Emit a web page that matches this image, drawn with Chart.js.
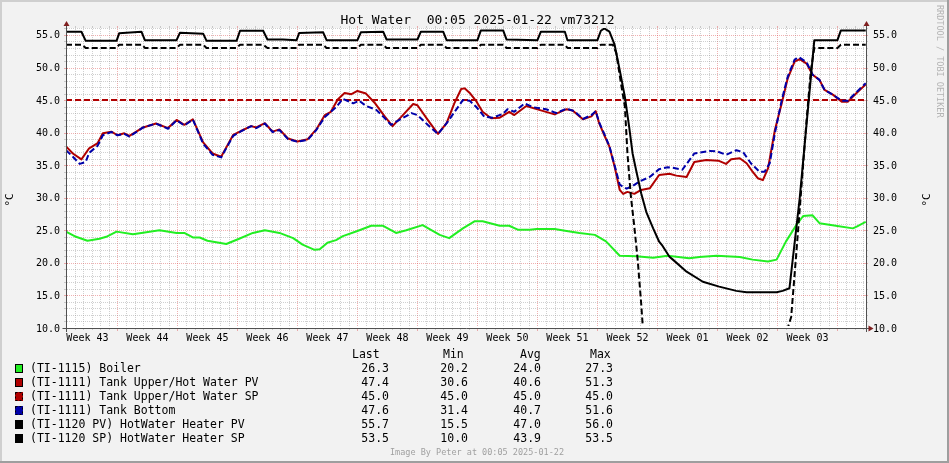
<!DOCTYPE html>
<html lang="en">
<head>
<meta charset="UTF-8" />
<title>Hot Water</title>
<script src="https://cdn.jsdelivr.net/npm/chart.js"></script>
<style>
  html, body { margin: 0; padding: 0; background: #f2f2f2; }
  canvas { display: block; }
</style>
</head>
<body>
<canvas id="hotWater" width="949" height="463"></canvas>
<script>
  // x values are days from the left edge of the graph
  const weekNames = ['Week 43', 'Week 44', 'Week 45', 'Week 46', 'Week 47', 'Week 48', 'Week 49',
                     'Week 50', 'Week 51', 'Week 52', 'Week 01', 'Week 02', 'Week 03'];
  const weekStarts = [6, 13, 20, 27, 34, 41, 48, 55, 62, 69, 76, 83, 90];
  const yLabels = [10, 15, 20, 25, 30, 35, 40, 45, 50, 55];
  const X_MIN = 0, X_MAX = 93.33, Y_MIN = 10, Y_MAX = 56.07;

  const boiler = [[0,24.8],[1.0,24.1],[2.5,23.4],[3.9,23.7],[4.7,24.0],[5.9,24.8],[7.8,24.4],[8.8,24.6],[10.9,25.0],[12.9,24.6],[13.8,24.6],[14.8,23.9],[15.6,23.9],[16.5,23.4],[18.7,22.9],[20.2,23.7],[21.8,24.6],[23.2,25.0],[24.9,24.6],[26.5,23.8],[27.6,22.8],[29.0,22.0],[29.6,22.1],[30.5,23.1],[31.5,23.5],[32.3,24.1],[34.0,24.9],[35.6,25.7],[37.0,25.7],[38.5,24.6],[39.7,25.0],[41.6,25.8],[43.6,24.3],[44.7,23.8],[46.3,25.3],[47.7,26.4],[48.6,26.4],[50.6,25.7],[51.7,25.7],[52.7,25.1],[54.1,25.1],[54.9,25.2],[57.0,25.2],[58.4,24.9],[59.9,24.6],[61.7,24.3],[63.0,23.3],[64.6,21.1],[66.5,21.0],[68.5,20.8],[70.2,21.1],[72.7,20.7],[73.9,20.9],[75.9,21.1],[78.6,20.9],[80.1,20.5],[81.9,20.2],[82.9,20.5],[84.0,23.3],[85.2,25.8],[86.0,27.2],[87.1,27.3],[87.9,26.1],[89.8,25.7],[91.8,25.3],[92.3,25.6],[93.3,26.3]];

  const tankPV = [[0,37.9],[0.8,36.8],[1.8,35.9],[2.7,37.6],[3.7,38.4],[4.3,39.9],[5.3,40.15],[6.0,39.6],[6.8,39.9],[7.4,39.5],[9.0,40.8],[10.5,41.4],[11.9,40.7],[12.9,41.95],[13.8,41.2],[14.8,42.05],[16.0,38.5],[17.1,36.8],[18.1,36.3],[19.5,39.65],[20.4,40.25],[21.6,41.0],[22.2,40.8],[23.2,41.45],[24.1,40.15],[24.9,40.5],[25.9,39.1],[27.0,38.65],[28.2,39.0],[29.2,40.5],[30.2,42.7],[30.9,43.2],[31.7,45.1],[32.5,46.1],[33.3,45.9],[34.0,46.4],[35.0,46.0],[36.0,44.6],[37.2,42.45],[38.1,41.0],[39.3,42.7],[40.5,44.4],[41.0,44.2],[42.2,41.95],[43.4,39.8],[44.4,41.45],[45.3,44.5],[46.1,46.7],[46.5,46.8],[47.1,46.1],[47.9,44.75],[48.6,43.2],[49.6,42.2],[50.6,42.3],[51.7,43.2],[52.3,42.7],[53.7,44.1],[55.2,43.5],[57.0,42.8],[58.4,43.6],[59.1,43.4],[60.3,42.05],[61.3,42.5],[61.8,43.3],[62.2,41.45],[62.8,39.6],[63.4,37.85],[64.0,34.8],[64.6,31.2],[65.0,30.6],[65.5,30.9],[66.3,30.6],[67.1,31.2],[68.1,31.45],[69.2,33.5],[70.4,33.7],[71.2,33.4],[72.4,33.2],[73.3,35.5],[74.7,35.8],[76.1,35.7],[77.0,35.2],[77.6,35.9],[78.6,36.06],[79.4,35.3],[80.1,34.0],[80.7,33.0],[81.3,32.7],[81.9,34.5],[82.7,40.4],[83.5,44.5],[84.2,48.35],[85.0,50.9],[85.6,51.3],[86.4,50.6],[87.1,48.9],[87.9,48.1],[88.5,46.55],[89.5,45.8],[90.5,44.75],[91.2,44.75],[92.2,46.05],[93.3,47.4]];

  const tankSP = [[0,45.0],[93.3,45.0]];

  const tankBottom = [[0,37.3],[0.8,36.3],[1.6,35.2],[2.3,35.5],[2.7,36.9],[3.7,38.0],[4.3,39.6],[5.3,40.1],[6.0,39.6],[6.8,39.8],[7.4,39.4],[9.0,40.8],[10.5,41.4],[11.9,40.6],[12.9,41.9],[13.8,41.1],[14.8,42.0],[16.0,38.3],[17.1,36.6],[18.1,36.2],[19.5,39.5],[20.4,40.2],[21.6,41.0],[22.2,40.7],[23.2,41.4],[24.1,40.1],[24.9,40.4],[25.9,39.0],[27.0,38.6],[28.2,38.9],[29.2,40.4],[30.2,42.4],[31.5,43.9],[32.3,45.2],[33.5,44.5],[34.2,44.9],[35.0,44.1],[36.2,43.5],[37.2,42.2],[37.9,41.2],[38.9,41.95],[40.3,43.0],[41.0,42.7],[42.2,41.2],[43.4,39.8],[44.5,41.6],[45.5,43.5],[46.3,45.0],[47.1,44.9],[47.9,43.9],[48.8,42.45],[49.8,42.3],[51.0,42.9],[51.5,43.6],[52.3,43.2],[53.5,44.5],[54.5,43.9],[56.0,43.6],[57.2,43.0],[58.4,43.7],[59.3,43.3],[60.3,42.1],[61.3,42.7],[61.8,43.3],[62.2,41.6],[62.8,39.8],[63.4,37.9],[64.0,35.0],[64.6,32.0],[65.4,31.4],[66.1,31.8],[66.9,32.5],[68.1,33.2],[69.2,34.4],[70.2,34.7],[70.8,34.6],[71.9,34.3],[73.3,36.8],[75.1,37.2],[76.0,37.1],[77.0,36.6],[78.2,37.3],[79.0,37.0],[79.9,35.3],[80.9,34.0],[81.5,34.0],[82.1,35.3],[82.7,39.9],[83.5,45.0],[84.2,48.6],[85.0,51.2],[85.5,51.6],[86.4,50.8],[87.1,48.9],[87.9,48.1],[88.5,46.55],[89.5,45.8],[90.5,44.9],[91.2,44.9],[92.2,46.2],[93.3,47.6]];

  const heaterPV = [[0,55.5],[1.8,55.5],[2.3,54.1],[5.9,54.1],[6.2,55.25],[8.8,55.5],[9.2,54.2],[12.9,54.2],[13.3,55.35],[16.0,55.2],[16.4,54.1],[19.9,54.1],[20.3,55.65],[23.0,55.65],[23.5,54.3],[25.3,54.3],[26.9,54.2],[27.2,55.3],[30.0,55.4],[30.4,54.2],[34.0,54.2],[34.4,55.4],[37.0,55.5],[37.4,54.3],[41.0,54.3],[41.4,55.5],[44.0,55.5],[44.4,54.2],[48.0,54.2],[48.4,55.7],[51.0,55.7],[51.4,54.3],[55.0,54.2],[55.4,55.5],[58.2,55.5],[58.5,54.2],[62.0,54.2],[62.4,55.65],[62.8,56.0],[63.4,55.5],[64.0,53.5],[64.6,49.6],[65.2,45.5],[65.7,40.9],[66.1,36.8],[66.5,34.3],[67.1,30.7],[67.7,27.8],[68.5,25.3],[69.2,23.25],[69.6,22.6],[70.4,20.95],[70.8,20.5],[72.4,18.65],[74.3,17.1],[76.2,16.35],[78.2,15.7],[79.4,15.5],[82.9,15.5],[83.6,15.7],[84.4,16.1],[85.6,30.0],[87.3,54.2],[90.0,54.2],[90.4,55.7],[93.3,55.7]];

  const heaterSP = [[0,53.5],[1.9,53.5],[2.3,53.0],[5.9,53.0],[6.2,53.5],[8.9,53.5],[9.2,53.0],[12.9,53.0],[13.3,53.5],[16.0,53.5],[16.4,53.0],[19.9,53.0],[20.3,53.5],[23.0,53.5],[23.5,53.0],[26.9,53.0],[27.2,53.5],[30.0,53.5],[30.4,53.0],[34.0,53.0],[34.4,53.5],[37.0,53.5],[37.4,53.0],[41.0,53.0],[41.4,53.5],[44.0,53.5],[44.4,53.0],[48.0,53.0],[48.4,53.5],[51.0,53.5],[51.4,53.0],[55.0,53.0],[55.4,53.5],[58.2,53.5],[58.5,53.0],[62.0,53.0],[62.4,53.5],[63.8,53.5],[64.2,52.2],[64.8,47.1],[65.2,44.0],[65.5,36.8],[65.9,30.2],[66.3,25.6],[66.7,20.4],[67.1,13.8],[67.3,10.0],[84.2,10.0],[84.6,11.7],[85.2,21.5],[85.8,31.7],[86.4,41.95],[86.9,49.6],[87.3,53.0],[90.0,53.0],[90.4,53.5],[93.3,53.5]];

  const legendNames = ['(TI-1115) Boiler', '(TI-1111) Tank Upper/Hot Water PV', '(TI-1111) Tank Upper/Hot Water SP',
                       '(TI-1111) Tank Bottom', '(TI-1120 PV) HotWater Heater PV', '(TI-1120 SP) HotWater Heater SP'];
  const lastVals = ['26.3', '47.4', '45.0', '47.6', '55.7', '53.5'];
  const minVals  = ['20.2', '30.6', '45.0', '31.4', '15.5', '10.0'];
  const avgVals  = ['24.0', '40.6', '45.0', '40.7', '47.0', '43.9'];
  const maxVals  = ['27.3', '51.3', '45.0', '51.6', '56.0', '53.5'];

  const series = [boiler, tankPV, tankSP, tankBottom, heaterPV, heaterSP];
  const colors = ['#22ee22', '#b00000', '#b00000', '#0000aa', '#000000', '#000000'];
  const dashed = [false, false, true, true, false, true];

  const MONO = '"DejaVu Sans Mono", "Liberation Mono", monospace';
  const px = v => Math.round(v) + 0.5;

  function line(ctx, x1, y1, x2, y2) {
    ctx.beginPath(); ctx.moveTo(x1, y1); ctx.lineTo(x2, y2); ctx.stroke();
  }
  function tri(ctx, pts, color) {
    ctx.fillStyle = color;
    ctx.beginPath(); ctx.moveTo(pts[0], pts[1]); ctx.lineTo(pts[2], pts[3]); ctx.lineTo(pts[4], pts[5]);
    ctx.closePath(); ctx.fill();
  }

  const rrdLook = {
    id: 'rrdLook',
    beforeDraw(chart) {
      const { ctx, chartArea: a, width: W, height: H } = chart;
      const xs = chart.scales.x, ys = chart.scales.y;
      ctx.save();
      ctx.fillStyle = '#f2f2f2'; ctx.fillRect(0, 0, W, H);
      ctx.fillStyle = '#cfcfcf'; ctx.fillRect(0, 0, W, 2); ctx.fillRect(0, 0, 2, H);
      ctx.fillStyle = '#9e9e9e'; ctx.fillRect(0, H - 2, W, 2); ctx.fillRect(W - 2, 0, 2, H);
      ctx.fillStyle = '#ffffff'; ctx.fillRect(a.left, a.top, a.right - a.left, a.bottom - a.top);

      const grid = 'rgba(143,143,143,0.42)', mgrid = 'rgba(222,79,79,0.45)';
      ctx.lineWidth = 1;
      // minor vertical (days)
      for (let d = 1; d < X_MAX; d++) {
        const major = weekStarts.includes(d);
        const x = px(xs.getPixelForValue(d));
        ctx.strokeStyle = major ? mgrid : grid;
        ctx.setLineDash([]);
        line(ctx, x, a.top - 2, x, a.top);
        line(ctx, x, a.bottom, x, a.bottom + (major ? 3 : 2));
        ctx.setLineDash([1, 1]);
        line(ctx, x, a.top + 1, x, a.bottom - 1);
      }
      // horizontal (degrees)
      for (let v = Y_MIN + 1; v < Y_MAX; v++) {
        const major = yLabels.includes(v);
        const y = px(ys.getPixelForValue(v));
        ctx.strokeStyle = major ? mgrid : grid;
        ctx.setLineDash([]);
        if (major) {
          line(ctx, a.left - 2, y, a.left + 2, y);
          line(ctx, a.right - 2, y, a.right + 2, y);
        } else {
          line(ctx, a.left - 2, y, a.left, y);
          line(ctx, a.right, y, a.right + 2, y);
        }
        ctx.setLineDash([1, 1]);
        line(ctx, a.left + 1, y, a.right - 1, y);
      }
      ctx.restore();
    },
    afterDatasetsDraw(chart) {
      const { ctx, chartArea: a } = chart;
      const xs = chart.scales.x, ys = chart.scales.y;
      ctx.save();
      // axes
      const L = px(a.left), R = px(a.right), B = px(a.bottom);
      ctx.strokeStyle = '#505050'; ctx.lineWidth = 1; ctx.setLineDash([]);
      line(ctx, L - 4, B, R + 4, B);
      line(ctx, L, a.bottom + 4, L, a.top - 4);
      line(ctx, R, a.bottom + 4, R, a.top - 4);
      const arrow = '#7f1f1f';
      tri(ctx, [R + 2, B - 3, R + 2, B + 3, R + 7, B], arrow);
      tri(ctx, [L - 3, a.top - 2, L + 3, a.top - 2, L, a.top - 7], arrow);
      tri(ctx, [R - 3, a.top - 2, R + 3, a.top - 2, R, a.top - 7], arrow);

      // title
      ctx.fillStyle = '#000';
      ctx.font = '13px ' + MONO;
      ctx.textAlign = 'center'; ctx.textBaseline = 'alphabetic';
      ctx.fillText('Hot Water  00:05 2025-01-22 vm73212', 477.5, 24);

      // y labels both sides
      ctx.font = '10px ' + MONO;
      yLabels.forEach(v => {
        const y = ys.getPixelForValue(v) + 3.5;
        ctx.textAlign = 'right'; ctx.fillText(v.toFixed(1), a.left - 6, y);
        ctx.textAlign = 'left'; ctx.fillText(v.toFixed(1), a.right + 7, y);
      });
      // week labels
      ctx.textAlign = 'center';
      weekNames.forEach((n, i) => {
        ctx.fillText(n, xs.getPixelForValue(weekStarts[i] - 3.5), a.bottom + 13);
      });

      // unit labels
      ctx.font = '11px ' + MONO;
      [10, 927].forEach(x => {
        ctx.save();
        ctx.translate(x, (a.top + a.bottom) / 2 + 22);
        ctx.rotate(-Math.PI / 2);
        ctx.textBaseline = 'middle';
        ctx.fillText('°C', 0, 0);
        ctx.restore();
      });

      // watermark
      ctx.save();
      ctx.translate(939, 5);
      ctx.rotate(Math.PI / 2);
      ctx.font = '8.5px ' + MONO;
      ctx.fillStyle = '#b4b4b4';
      ctx.textAlign = 'left'; ctx.textBaseline = 'middle';
      ctx.fillText('RRDTOOL / TOBI OETIKER', 0, 0);
      ctx.restore();

      // legend
      ctx.font = '11.5px ' + MONO;
      ctx.fillStyle = '#000';
      ctx.textBaseline = 'alphabetic';
      ctx.textAlign = 'left';
      const hy = 358;
      ctx.fillText('Last', 352, hy);
      ctx.fillText('Min', 443, hy);
      ctx.fillText('Avg', 520, hy);
      ctx.fillText('Max', 590, hy);
      legendNames.forEach((n, i) => {
        const cy = 368 + i * 14;
        ctx.fillStyle = colors[i];
        ctx.fillRect(15, cy - 4, 8, 9);
        ctx.strokeStyle = '#000';
        ctx.lineWidth = 1;
        ctx.setLineDash(dashed[i] ? [2, 2] : []);
        ctx.strokeRect(15.5, cy - 3.5, 7, 8);
        ctx.setLineDash([]);
        ctx.fillStyle = '#000';
        ctx.textAlign = 'left';
        ctx.fillText(n, 30, cy + 4);
        ctx.textAlign = 'right';
        ctx.fillText(lastVals[i], 389, cy + 4);
        ctx.fillText(minVals[i], 468, cy + 4);
        ctx.fillText(avgVals[i], 541, cy + 4);
        ctx.fillText(maxVals[i], 613, cy + 4);
      });

      // footer
      ctx.font = '8.5px ' + MONO;
      ctx.fillStyle = '#a0a0a0';
      ctx.textAlign = 'center';
      ctx.fillText('Image By Peter at 00:05 2025-01-22', 477, 455);
      ctx.restore();
    }
  };

  new Chart(document.getElementById('hotWater'), {
    type: 'line',
    data: {
      datasets: series.map((s, i) => ({
        label: legendNames[i],
        data: s.map(p => ({ x: p[0], y: p[1] })),
        borderColor: colors[i],
        borderWidth: 2,
        borderDash: dashed[i] ? [6, 3] : [],
        borderJoinStyle: 'round',
        pointRadius: 0,
        tension: 0,
        fill: false,
        // heater SP sits on the bottom edge for a while; keep it under the axis
        clip: i === 5 ? { left: 1, top: 2, right: 1, bottom: -2 } : undefined,
        order: 5 - i
      }))
    },
    options: {
      responsive: false,
      animation: false,
      devicePixelRatio: 1,
      layout: { padding: { left: 66, right: 83, top: 28, bottom: 135 } },
      scales: {
        x: { type: 'linear', min: X_MIN, max: X_MAX, display: false },
        y: { type: 'linear', min: Y_MIN, max: Y_MAX, display: false }
      },
      plugins: { legend: { display: false }, tooltip: { enabled: false } }
    },
    plugins: [rrdLook]
  });
</script>
</body>
</html>
